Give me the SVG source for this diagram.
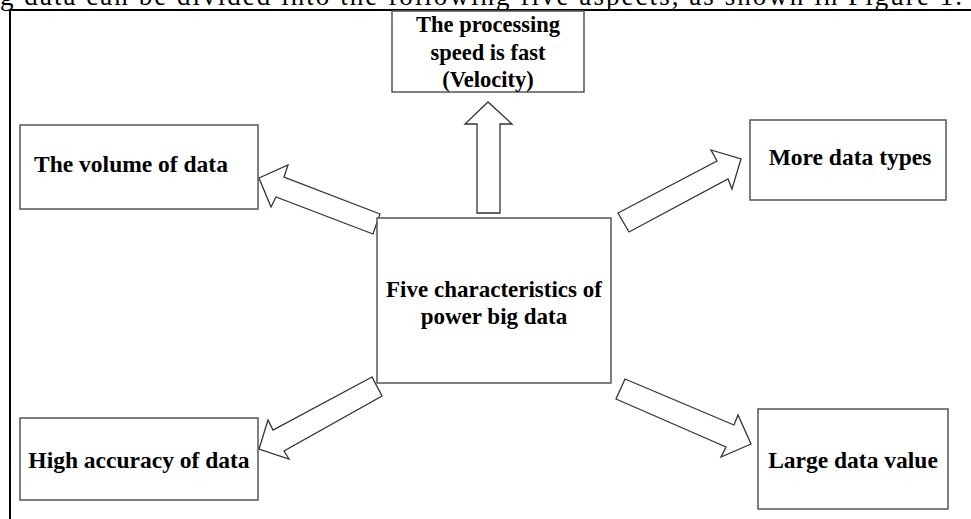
<svg xmlns="http://www.w3.org/2000/svg" width="971" height="519" viewBox="0 0 971 519">
<style>
.box{fill:#fff;stroke:#555;stroke-width:1.5}
.arr{fill:#fff;stroke:#333;stroke-width:1.3;stroke-linejoin:miter}
.lbl{font-family:"Liberation Serif","Times New Roman",serif;font-weight:bold;font-size:23.5px;fill:#000;text-anchor:middle}
.mid{font-size:23px}
.top{font-size:22.5px}
.cap{font-family:"Liberation Serif","Times New Roman",serif;font-size:27px;fill:#000}
</style>
<rect width="971" height="519" fill="#fff"/>
<text class="cap" x="0" y="5" textLength="962" lengthAdjust="spacing">g data can be divided into the following five aspects, as shown in Figure 1.</text>
<path d="M10,519 V10 H971" fill="none" stroke="#000" stroke-width="2"/>
<g id="connectors">
<polygon class="arr" points="477,213 477,124 465,124 488,102 512,124 500,124 500,213"/>
<polygon class="arr" points="380,214 284,177 288,165 259,178 271,207 276,197 373,234"/>
<polygon class="arr" points="618,213 717,161 711,150 741,159 732,189 728,179 629,232"/>
<polygon class="arr" points="372,377 273,430 268,420 259,449 289,459 284,451 382,396"/>
<polygon class="arr" points="625,379 734,425 738,415 751,444 721,457 726,447 616,399"/>
</g>
<g id="node-center">
<rect class="box" x="377" y="218" width="234" height="165"/>
<text class="lbl mid" x="494" y="297">Five characteristics of</text>
<text class="lbl mid" x="494" y="324">power big data</text>
</g>
<g id="node-velocity">
<rect class="box" x="392" y="11" width="192" height="81"/>
<text class="lbl top" x="488" y="32">The processing</text>
<text class="lbl top" x="488" y="60">speed is fast</text>
<text class="lbl top" x="488" y="87">(Velocity)</text>
</g>
<g id="node-volume">
<rect class="box" x="20" y="125" width="238" height="84"/>
<text class="lbl" x="131" y="172">The volume of data</text>
</g>
<g id="node-types">
<rect class="box" x="750" y="120" width="196" height="80"/>
<text class="lbl" x="850" y="165">More data types</text>
</g>
<g id="node-accuracy">
<rect class="box" x="20" y="418" width="238" height="82"/>
<text class="lbl" x="139" y="468">High accuracy of data</text>
</g>
<g id="node-value">
<rect class="box" x="758" y="409" width="190" height="100"/>
<text class="lbl" x="853" y="468">Large data value</text>
</g>
</svg>
